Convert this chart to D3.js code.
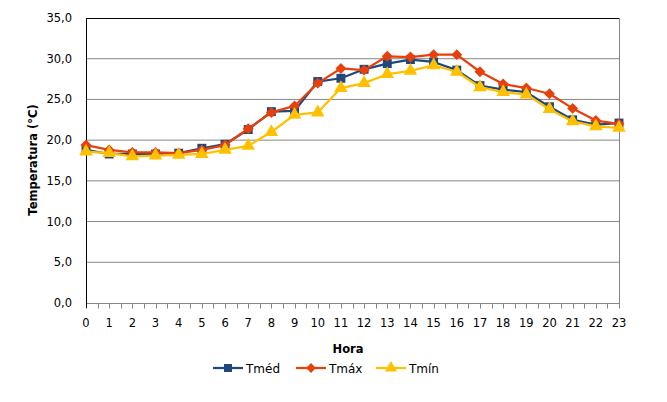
<!DOCTYPE html>
<html>
<head>
<meta charset="utf-8">
<script src="https://cdn.jsdelivr.net/npm/d3@7"></script>
<style>
  body { margin: 0; background: #fff; }
  svg { font-family: "DejaVu Sans", Verdana, sans-serif; }
</style>
</head>
<body>
<svg id="chart" width="667" height="402"></svg>
<script>
// Data
const hours = d3.range(0, 24);
const tmed = [18.8, 18.3, 18.3, 18.3, 18.4, 19.0, 19.5, 21.3, 23.5, 23.6, 27.2, 27.6, 28.7, 29.4, 29.9, 29.6, 28.6, 26.7, 26.2, 25.9, 24.1, 22.5, 21.9, 22.1];
const tmax = [19.4, 18.8, 18.5, 18.5, 18.4, 18.8, 19.4, 21.4, 23.4, 24.2, 27.0, 28.8, 28.6, 30.3, 30.2, 30.5, 30.5, 28.4, 26.9, 26.4, 25.7, 23.9, 22.4, 22.0];
const tmin = [18.6, 18.4, 18.0, 18.1, 18.2, 18.3, 18.8, 19.3, 21.0, 23.1, 23.4, 26.4, 27.0, 28.1, 28.5, 29.2, 28.4, 26.5, 25.9, 25.6, 23.8, 22.3, 21.7, 21.5];
const yTicks = [0, 5, 10, 15, 20, 25, 30, 35];

const series = [
  { name: "Tméd", values: tmed, color: "#1F497D", symbol: d3.symbolSquare, size: 80, rot: 0 },
  { name: "Tmáx", values: tmax, color: "#E8400C", symbol: d3.symbolSquare, size: 60, rot: 45 },
  { name: "Tmín", values: tmin, color: "#FFC000", symbol: d3.symbolTriangle, size: 80, rot: 0 }
];

const svg = d3.select("#chart");
const plotLeft = 86, plotRight = 619, plotTop = 18, plotBottom = 303;

const x = d3.scaleLinear().domain([0, 23]).range([plotLeft, plotRight]);
const y = d3.scaleLinear().domain([0, 35]).range([plotBottom, plotTop]);
const fmt = d => d.toFixed(1).replace(".", ",");

// Gridlines
svg.append("g")
  .selectAll("line")
  .data(yTicks.filter(d => d > 0 && d < 35))
  .join("line")
  .attr("x1", plotLeft).attr("x2", plotRight)
  .attr("y1", d => y(d)).attr("y2", d => y(d))
  .attr("stroke", "#868686").attr("stroke-width", 1);

// Frame: top black, right gray
svg.append("line").attr("x1", plotLeft).attr("x2", plotRight).attr("y1", plotTop + 0.5).attr("y2", plotTop + 0.5)
  .attr("stroke", "#000").attr("stroke-width", 1);
svg.append("line").attr("x1", plotRight + 0.5).attr("x2", plotRight + 0.5).attr("y1", plotTop).attr("y2", plotBottom)
  .attr("stroke", "#868686").attr("stroke-width", 1);

// X axis
const xAxis = svg.append("g").attr("transform", `translate(0,${plotBottom + 0.5})`);
xAxis.append("line").attr("x1", plotLeft).attr("x2", plotRight + 1).attr("stroke", "#868686");
xAxis.selectAll("line.tick")
  .data(d3.range(0, 23.5, 0.5))
  .join("line").attr("class", "tick")
  .attr("x1", d => Math.round(x(d)) + 0.5).attr("x2", d => Math.round(x(d)) + 0.5)
  .attr("y1", 0).attr("y2", 5)
  .attr("stroke", "#868686");
xAxis.selectAll("text")
  .data(hours)
  .join("text")
  .attr("x", d => x(d)).attr("y", 23)
  .attr("text-anchor", "middle")
  .attr("font-size", 11.5)
  .attr("fill", "#000")
  .text(d => d);

// Y axis
const yAxis = svg.append("g");
yAxis.append("line").attr("x1", plotLeft + 0.5).attr("x2", plotLeft + 0.5).attr("y1", plotTop).attr("y2", plotBottom + 5)
  .attr("stroke", "#000");
yAxis.selectAll("text")
  .data(yTicks)
  .join("text")
  .attr("x", plotLeft - 14).attr("y", d => y(d) + 4)
  .attr("text-anchor", "end")
  .attr("font-size", 11.5)
  .attr("fill", "#000")
  .text(fmt);

// Axis titles
svg.append("text")
  .attr("transform", `translate(37,160) rotate(-90)`)
  .attr("text-anchor", "middle")
  .attr("font-size", 11.5).attr("font-weight", "bold")
  .text("Temperatura (°C)");
svg.append("text")
  .attr("x", 348).attr("y", 353)
  .attr("text-anchor", "middle")
  .attr("font-size", 11.5).attr("font-weight", "bold")
  .text("Hora");

// Lines and markers
const line = d3.line().x((d, i) => x(hours[i])).y(d => y(d));
series.forEach(s => {
  const g = svg.append("g");
  g.append("path")
    .attr("d", line(s.values))
    .attr("fill", "none")
    .attr("stroke", s.color)
    .attr("stroke-width", 2.25)
    .attr("stroke-linejoin", "round");
  g.selectAll("path.m")
    .data(s.values)
    .join("path").attr("class", "m")
    .attr("d", d3.symbol(s.symbol, s.size))
    .attr("transform", (d, i) => `translate(${x(hours[i])},${y(d)}) rotate(${s.rot})`)
    .attr("fill", s.color);
});

// Legend
const legendX = [213, 296, 376];
const legend = svg.append("g").attr("transform", "translate(0,368)");
series.forEach((s, i) => {
  const lg = legend.append("g").attr("transform", `translate(${legendX[i]},0)`);
  lg.append("line").attr("x1", 0).attr("x2", 30).attr("stroke", s.color).attr("stroke-width", 2.25);
  lg.append("path").attr("d", d3.symbol(s.symbol, s.size * 0.8))
    .attr("transform", `translate(15,0) rotate(${s.rot})`).attr("fill", s.color);
  lg.append("text").attr("x", 33).attr("y", 4.5)
    .attr("font-size", 12).attr("fill", "#000").text(s.name);
});
</script>
</body>
</html>
